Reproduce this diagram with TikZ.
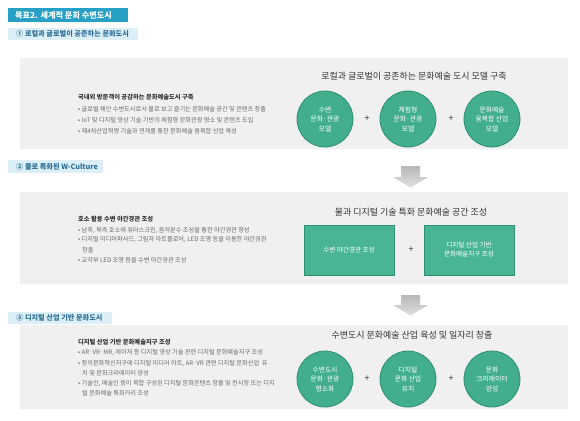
\documentclass[tikz,border=0pt]{standalone}
\usepackage{fontspec}
\setmainfont{Noto Sans CJK KR}
\definecolor{titleblue}{HTML}{26A0C4}
\definecolor{stripblue}{HTML}{DCEFF7}
\definecolor{stripText}{HTML}{2F6F96}
\definecolor{panelgray}{HTML}{F0F0F0}
\definecolor{textdark}{HTML}{333333}
\definecolor{textgray}{HTML}{6A6A6A}
\definecolor{cgreen}{HTML}{42AE8D}
\definecolor{cgreenD}{HTML}{2E8F72}
\definecolor{bgreen}{HTML}{4AB594}
\tikzset{
  panel/.style={fill=panelgray, draw=none},
  heading/.style={anchor=west, font=\fontsize{6.3}{7}\selectfont\bfseries, text=textdark, inner sep=0},
  bul/.style={anchor=west, font=\fontsize{6.2}{6.5}\selectfont, text=textgray, inner sep=0},
  hand/.style={font=\fontsize{9}{10}\selectfont, text=textdark, inner sep=0},
  greencirc/.style={circle, minimum size=56bp, fill=cgreen, draw=cgreenD, line width=0.8bp, text=white, font=\fontsize{6.8}{9.5}\selectfont, align=center, inner sep=0},
  greenbox/.style={rectangle, minimum width=90bp, minimum height=50bp, fill=bgreen, draw=cgreenD, line width=0.6bp, text=white, font=\fontsize{6.6}{9}\selectfont, align=center, inner sep=0},
  plussign/.style={font=\fontsize{9}{9}\selectfont, text=textdark, inner sep=0},
  subt/.style={fill=stripblue, draw=none},
  subtext/.style={anchor=west, font=\fontsize{7.2}{8}\selectfont\bfseries, text=stripText, inner sep=0},
  downarrow/.style={draw=none, top color=black!28, bottom color=black!12}
}
\begin{document}
\begin{tikzpicture}[x=1bp, y=-1bp]
\useasboundingbox[fill=white] (0,0) rectangle (580,420);

% title
\path[fill=titleblue] (8,8) rectangle (128,22);
\node[anchor=west, inner sep=0, text=white, font=\fontsize{8.2}{9}\selectfont\bfseries] (title) at (15,15) {목표2. 세계적 문화 수변도시};

% subtitle 1
\path[subt] (8,28) rectangle (138,40);
\node[subtext] (sub1) at (16,34) {① 로컬과 글로벌이 공존하는 문화도시};

% panel 1
\path[panel] (20,58) rectangle (568,149);
\node[heading] (h1) at (78,97) {국내외 방문객이 공감하는 문화예술도시 구축};
\node[bul] (b11) at (78,109) {• 글로벌 해안 수변도시로서 물로 보고 즐기는 문화예술 공간 및 콘텐츠 창출};
\node[bul] (b12) at (78,120) {• IoT 및 디지털 영상 기술 기반의 체험형 문화관광 명소 및 콘텐츠 도입};
\node[bul] (b13) at (78,131) {• 제4차산업혁명 기술과 연계를 통한 문화예술 융복합 산업 육성};
\node[hand] (t1) at (414,76) {로컬과 글로벌이 공존하는 문화예술 도시 모델 구축};
\node[greencirc] (c11) at (325,119) {수변\\문화·관광\\모델};
\node[greencirc] (c12) at (408,119) {체험형\\문화·관광\\모델};
\node[greencirc] (c13) at (492,119) {문화예술\\융복합 산업\\모델};
\node[plussign] (p11) at (367,119) {+};
\node[plussign] (p12) at (451,119) {+};

% arrow 1
\path[downarrow] (401,166) -- (420,166) -- (420,177) -- (428,177) -- (410.5,187.5) -- (393,177) -- (401,177) -- cycle;

% subtitle 2
\path[subt] (8,160) rectangle (103,173);
\node[subtext] (sub2) at (16,166.5) {② 물로 특화된 W-Culture};

% panel 2
\path[panel] (20,192) rectangle (568,284);
\node[heading] (h2) at (78,219) {호소 활용 수변 야간경관 조성};
\node[bul] (b21) at (78,230) {• 남측, 북측 호소에 워터스크린, 음악분수 조성을 통한 야간경관 형성};
\node[bul] (b22) at (78,240) {• 디지털 미디어파사드, 그림자 아트플로어, LED 조명 등을 이용한 야간경관};
\node[bul] (b22b) at (82,250) {창출};
\node[bul] (b23) at (78,260) {• 교각부 LED 조명 등을 수변 야간경관 조성};
\node[hand] (t2) at (411,212) {물과 디지털 기술 특화 문화예술 공간 조성};
\node[greenbox] (x21) at (349,250) {수변 야간경관 조성};
\node[greenbox] (x22) at (469,250) {디지털 산업 기반\\문화예술지구 조성};
\node[plussign] (p21) at (411,250) {+};

% arrow 2
\path[downarrow] (401,295) -- (420,295) -- (420,305) -- (428,305) -- (410.5,315.5) -- (393,305) -- (401,305) -- cycle;

% subtitle 3
\path[subt] (8,312) rectangle (112,324);
\node[subtext] (sub3) at (16,318) {③ 디지털 산업 기반 문화도시};

% panel 3
\path[panel] (20,325) rectangle (568,409);
\node[heading] (h3) at (78,342) {디지털 산업 기반 문화예술지구 조성};
\node[bul] (b31) at (78,352.5) {• AR·VR·MR, 레이저 등 디지털 영상 기술 관련 디지털 문화예술지구 조성};
\node[bul] (b32) at (78,363) {• 창의문화혁신지구에 디지털 미디어 아트, AR·VR 관련 디지털 문화산업\ \ 유};
\node[bul] (b32b) at (82,373) {치 및 문화크리에이터 양성};
\node[bul] (b33) at (78,383.5) {• 기술인, 예술인 등이 복합 구성된 디지털 문화콘텐츠 창출 및 전시장 또는 디지};
\node[bul] (b33b) at (82,393.5) {털 문화예술 특화거리 조성};
\node[hand] (t3) at (412,335) {수변도시 문화예술 산업 육성 및 일자리 창출};
\node[greencirc] (c31) at (325,379) {수변도시\\문화·관광\\명소화};
\node[greencirc] (c32) at (408,379) {디지털\\문화 산업\\유치};
\node[greencirc] (c33) at (492,379) {문화\\크리에이터\\양성};
\node[plussign] (p31) at (367,379) {+};
\node[plussign] (p32) at (451,379) {+};
\end{tikzpicture}
\end{document}
